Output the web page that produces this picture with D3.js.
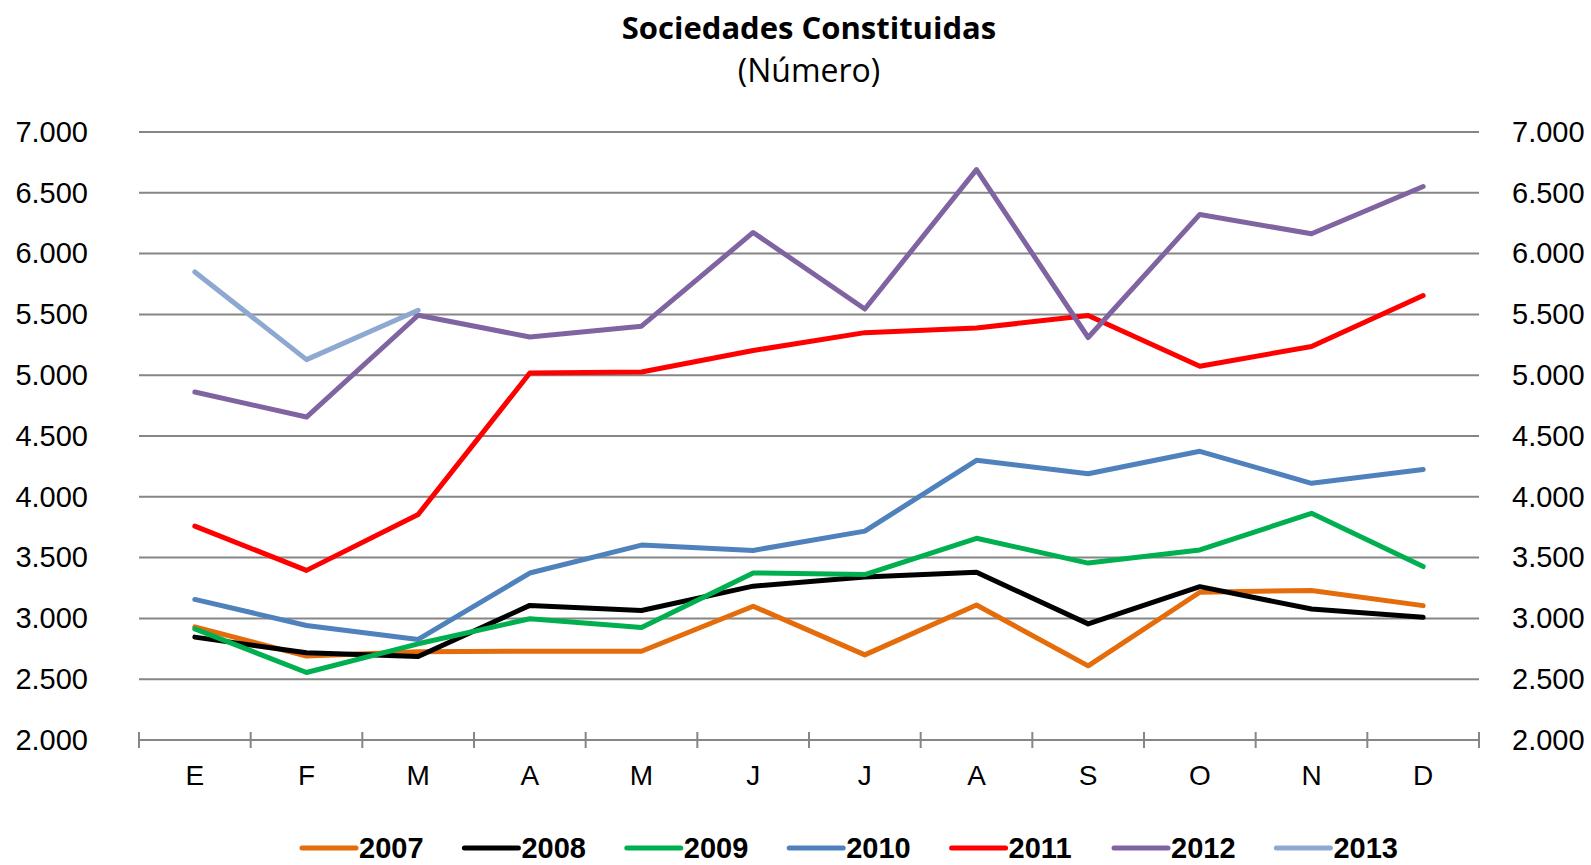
<!DOCTYPE html>
<html>
<head>
<meta charset="utf-8">
<script src="https://cdn.jsdelivr.net/npm/d3@7"></script>
<style>
  body { margin: 0; background: #fff; }
</style>
</head>
<body>
<div id="chart"></div>
<script>
// months on the x axis
var months = ["E", "F", "M", "A", "M", "J", "J", "A", "S", "O", "N", "D"];
var years = ["2007", "2008", "2009", "2010", "2011", "2012", "2013"];
var yTicks = [2000, 2500, 3000, 3500, 4000, 4500, 5000, 5500, 6000, 6500, 7000];

// values, one array per year
var s2007 = [2930, 2690, 2725, 2730, 2730, 3100, 2700, 3110, 2610, 3215, 3230, 3105];
var s2008 = [2846, 2717, 2687, 3107, 3065, 3265, 3340, 3379, 2955, 3261, 3077, 3009];
var s2009 = [2914, 2555, 2791, 2997, 2926, 3374, 3360, 3659, 3455, 3563, 3864, 3426];
var s2010 = [3156, 2942, 2827, 3373, 3603, 3559, 3718, 4300, 4190, 4374, 4111, 4224];
var s2011 = [3759, 3395, 3855, 5018, 5026, 5203, 5350, 5388, 5491, 5074, 5236, 5655];
var s2012 = [4862, 4656, 5493, 5314, 5403, 6174, 5544, 6691, 5310, 6322, 6163, 6552];
var s2013 = [5849, 5128, 5534];

var colors = ["#E46C0A", "#000000", "#00B050", "#4F81BD", "#FF0000", "#8064A2", "#8EA9D1"];

var series = [s2007, s2008, s2009, s2010, s2011, s2012, s2013].map(function(vals, i) {
  return { name: years[i], color: colors[i], values: vals };
});

var W = 1591, H = 865;
var margin = {top: 132, right: 112, bottom: 125, left: 139};
var width = W - margin.left - margin.right,
    height = H - margin.top - margin.bottom;

var svg = d3.select("#chart").append("svg")
    .attr("width", W)
    .attr("height", H);

var g = svg.append("g")
    .attr("transform", "translate(" + margin.left + "," + margin.top + ")");

// scales
var x = d3.scaleBand()
    .domain(d3.range(months.length))
    .range([0, width]);
var y = d3.scaleLinear()
    .domain([2000, 7000])
    .range([height, 0]);

var gridColor = "#868686";

// horizontal gridlines
g.selectAll(".grid")
    .data(yTicks.slice(1))
  .enter().append("line")
    .attr("class", "grid")
    .attr("x1", 0)
    .attr("x2", width)
    .attr("y1", function(d) { return y(d); })
    .attr("y2", function(d) { return y(d); })
    .style("stroke", gridColor)
    .style("stroke-width", 2);

// left and right value labels
var labelFont = "'Liberation Sans', Arial, sans-serif";
var fmt = function(d) { return d3.format(",")(d).replace(",", "."); };

g.append("g")
    .call(d3.axisLeft(y).tickValues(yTicks).tickSize(0).tickPadding(51).tickFormat(fmt))
    .call(function(a) { a.select(".domain").remove(); })
    .selectAll("text")
    .style("font-family", labelFont)
    .style("font-size", "29px")
    .style("fill", "#000");

g.append("g")
    .attr("transform", "translate(" + width + ",0)")
    .call(d3.axisRight(y).tickValues(yTicks).tickSize(0).tickPadding(33).tickFormat(fmt))
    .call(function(a) { a.select(".domain").remove(); })
    .selectAll("text")
    .style("font-family", labelFont)
    .style("font-size", "29px")
    .style("fill", "#000");

// x axis: line with ticks crossing it at band edges
var xAxis = g.append("g").attr("transform", "translate(0," + height + ")");
xAxis.append("line")
    .attr("x1", 0).attr("x2", width)
    .style("stroke", gridColor)
    .style("stroke-width", 2);
xAxis.selectAll(".xtick")
    .data(d3.range(months.length + 1))
  .enter().append("line")
    .attr("class", "xtick")
    .attr("x1", function(d) { return d * x.step(); })
    .attr("x2", function(d) { return d * x.step(); })
    .attr("y1", -8)
    .attr("y2", 8)
    .style("stroke", gridColor)
    .style("stroke-width", 2);
xAxis.selectAll(".xlab")
    .data(months)
  .enter().append("text")
    .attr("class", "xlab")
    .attr("x", function(d, i) { return x(i) + x.bandwidth() / 2; })
    .attr("y", 45)
    .attr("text-anchor", "middle")
    .style("font-family", labelFont)
    .style("font-size", "28px")
    .text(function(d) { return d; });

// the lines
var line = d3.line()
    .x(function(d, i) { return x(i) + x.bandwidth() / 2; })
    .y(function(d) { return y(d); });

g.selectAll(".serie")
    .data(series)
  .enter().append("path")
    .attr("class", "serie")
    .attr("d", function(d) { return line(d.values); })
    .style("fill", "none")
    .style("stroke", function(d) { return d.color; })
    .style("stroke-width", 5)
    .style("stroke-linejoin", "round")
    .style("stroke-linecap", "round");

// title
svg.append("text")
    .attr("x", margin.left + width / 2)
    .attr("y", 39)
    .attr("text-anchor", "middle")
    .style("font-family", "'Open Sans', 'Noto Sans', sans-serif")
    .style("font-weight", "bold")
    .style("font-size", "31px")
    .text("Sociedades Constituidas");

svg.append("text")
    .attr("x", margin.left + width / 2)
    .attr("y", 82)
    .attr("text-anchor", "middle")
    .style("font-family", "'Open Sans', 'Noto Sans', sans-serif")
    .style("font-size", "32px")
    .text("(Número)");

// legend
var legend = svg.selectAll(".legend")
    .data(series)
  .enter().append("g")
    .attr("class", "legend")
    .attr("transform", function(d, i) { return "translate(" + (302 + i * 162.4) + ",848)"; });

legend.append("line")
    .attr("x1", 0).attr("x2", 54)
    .style("stroke", function(d) { return d.color; })
    .style("stroke-width", 5)
    .style("stroke-linecap", "round");

legend.append("text")
    .attr("x", 57)
    .attr("y", 10)
    .style("font-family", labelFont)
    .style("font-weight", "bold")
    .style("font-size", "29px")
    .text(function(d) { return d.name; });
</script>
</body>
</html>
